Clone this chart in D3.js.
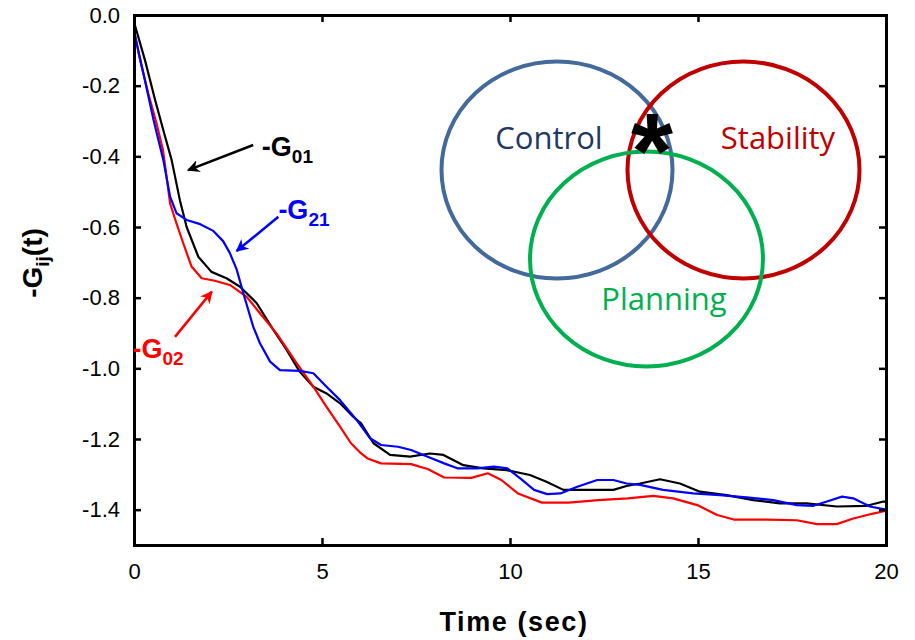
<!DOCTYPE html>
<html><head><meta charset="utf-8">
<script src="https://cdn.jsdelivr.net/npm/d3@7"></script>
<style>body{margin:0;background:#fff}svg{display:block}</style>
</head><body><svg id="c" width="915" height="640"></svg>
<script>
const xTicks=[0,5,10,15,20];
const yTicks=[0,-0.2,-0.4,-0.6,-0.8,-1.0,-1.2,-1.4];
const g01T=[0,0.29,0.56,0.78,1.0,1.22,1.4,1.71,2.06,2.46,2.82,3.26,3.71,4.06,4.41,4.77,5.12,5.48,5.83,6.04,6.37,6.81,7.34,7.87,8.23,8.76,9.29,9.91,10.53,10.97,11.42,12.04,12.75,13.1,13.46,13.99,14.52,15.05,15.76,16.47,17.18,17.89,18.69,19.49,19.93,20];
const g01V=[-0.02,-0.127,-0.24,-0.326,-0.41,-0.524,-0.6,-0.684,-0.727,-0.745,-0.769,-0.815,-0.892,-0.948,-1.01,-1.052,-1.071,-1.099,-1.137,-1.156,-1.212,-1.245,-1.25,-1.241,-1.245,-1.274,-1.283,-1.288,-1.302,-1.321,-1.344,-1.344,-1.344,-1.333,-1.326,-1.314,-1.326,-1.349,-1.359,-1.373,-1.382,-1.382,-1.391,-1.389,-1.377,-1.377];
const g02T=[0,0.16,0.38,0.6,0.77,0.96,1.13,1.31,1.53,1.8,2.15,2.55,2.99,3.35,3.79,4.33,4.77,5.12,5.48,5.77,6.04,6.21,6.57,7.37,7.81,8.25,8.97,9.41,9.77,10.21,10.85,11.56,12.35,13.13,13.81,14.34,14.98,15.51,15.95,16.84,17.63,18.16,18.69,19.13,19.66,20];
const g02V=[-0.042,-0.127,-0.222,-0.307,-0.382,-0.533,-0.59,-0.646,-0.712,-0.745,-0.752,-0.764,-0.797,-0.844,-0.901,-0.986,-1.052,-1.109,-1.165,-1.212,-1.241,-1.255,-1.269,-1.271,-1.285,-1.309,-1.31,-1.297,-1.316,-1.354,-1.38,-1.38,-1.373,-1.368,-1.361,-1.368,-1.387,-1.415,-1.428,-1.428,-1.43,-1.441,-1.441,-1.425,-1.411,-1.403];
const g21T=[0,0.25,0.52,0.78,0.96,1.13,1.4,1.76,2.11,2.37,2.55,2.73,2.91,3.17,3.35,3.62,3.88,4.41,4.77,5.12,5.48,5.92,6.28,6.57,7.02,7.37,7.81,8.25,8.6,9.13,9.57,9.93,10.28,10.64,10.99,11.34,11.79,12.32,12.75,13.1,13.46,14.07,14.87,15.58,16.29,17.0,17.63,18.07,18.43,18.83,19.13,19.57,20];
const g21V=[-0.047,-0.165,-0.297,-0.41,-0.514,-0.561,-0.58,-0.592,-0.611,-0.64,-0.674,-0.72,-0.788,-0.882,-0.929,-0.981,-1.005,-1.007,-1.014,-1.052,-1.09,-1.146,-1.198,-1.217,-1.222,-1.231,-1.25,-1.269,-1.283,-1.283,-1.278,-1.283,-1.312,-1.344,-1.356,-1.354,-1.335,-1.316,-1.316,-1.326,-1.33,-1.344,-1.354,-1.359,-1.365,-1.373,-1.387,-1.389,-1.377,-1.363,-1.368,-1.391,-1.4];
const seriesNames=["-G01","-G02","-G21"];
const seriesColors=["#000000","#ff0000","#0000ff"];
const vennLabels=["Control","Stability","Planning"];

const svg=d3.select("#c");
const L=134,R=886,T=15,B=545;
const x=d3.scaleLinear().domain([0,20]).range([L,R]);
const y=d3.scaleLinear().domain([0,-1.5]).range([T,B]);
const font="'Liberation Sans',Arial,sans-serif";

const series=[[g01T,g01V],[g02T,g02V],[g21T,g21V]];
const line=d3.line().x(d=>x(d[0])).y(d=>y(d[1]));
[0,1,2].forEach(i=>{
  const pts=series[i][0].map((t,k)=>[t,series[i][1][k]]);
  svg.append("path").attr("d",line(pts)).attr("fill","none")
    .attr("stroke",seriesColors[i]).attr("stroke-width",2.2).attr("stroke-linejoin","round");
});

const ax=svg.append("g").attr("font-family",font);
const axB=d3.axisBottom(x).tickValues(xTicks).tickSize(-7).tickPadding(18).tickFormat(d3.format("d"));
const gB=ax.append("g").attr("transform",`translate(0,${B})`).call(axB);
const axT=d3.axisTop(x).tickValues(xTicks).tickSize(-7).tickFormat("");
const gT=ax.append("g").attr("transform",`translate(0,${T})`).call(axT);
const axL=d3.axisLeft(y).tickValues(yTicks).tickSize(-7).tickPadding(14).tickFormat(d3.format(".1f"));
const gL=ax.append("g").attr("transform",`translate(${L},0)`).call(axL);
const axR=d3.axisRight(y).tickValues(yTicks).tickSize(-7).tickFormat("");
const gR=ax.append("g").attr("transform",`translate(${R},0)`).call(axR);
[gB,gT,gL,gR].forEach(g=>{
  g.select(".domain").attr("stroke","#000").attr("stroke-width",3);
  g.selectAll(".tick line").attr("stroke","#000").attr("stroke-width",2.5);
  g.selectAll(".tick text").attr("fill","#000").attr("font-size",22).attr("font-family",font);
});
gL.selectAll(".tick text").text(d=>d===0?"0.0":d3.format(".1f")(d).replace("−","-"));

svg.append("text").attr("x",(L+R)/2+4).attr("y",631).attr("text-anchor","middle")
  .attr("font-family",font).attr("font-weight","bold").attr("font-size",27).attr("letter-spacing",1.6)
  .text("Time (sec)");
const yl=svg.append("text").attr("transform","translate(42,263) rotate(-90)").attr("text-anchor","middle")
  .attr("font-family",font).attr("font-weight","bold").attr("font-size",28);
yl.append("tspan").text("-G");
yl.append("tspan").attr("font-size",19).attr("dy",7).text("ij");
yl.append("tspan").attr("dy",-7).text("(t)");

const ann=[
  {i:0,lt:3.4,lv:-0.398,a:[3.17,-0.368,1.44,-0.439]},
  {i:2,lt:3.84,lv:-0.576,a:[3.84,-0.571,2.73,-0.668]},
  {i:1,lt:-0.04,lv:-0.972,a:[1.09,-0.911,2.07,-0.783]}
];
const defs=svg.append("defs");
seriesColors.forEach((c,i)=>{
  defs.append("marker").attr("id","ah"+i).attr("viewBox","0 0 10 10").attr("refX",9).attr("refY",5)
    .attr("markerWidth",5).attr("markerHeight",5).attr("orient","auto").attr("markerUnits","strokeWidth")
    .append("path").attr("d","M0,0L10,5L0,10L3,5Z").attr("fill",c);
});
ann.forEach(a=>{
  const c=seriesColors[a.i];
  svg.append("line").attr("x1",x(a.a[0])).attr("y1",y(a.a[1])).attr("x2",x(a.a[2])).attr("y2",y(a.a[3]))
    .attr("stroke",c).attr("stroke-width",2.5).attr("marker-end",`url(#ah${a.i})`);
  const t=svg.append("text").attr("x",x(a.lt)).attr("y",y(a.lv)).attr("fill",c)
    .attr("font-family",font).attr("font-weight","bold").attr("font-size",27);
  t.append("tspan").text("-G");
  t.append("tspan").attr("font-size",19).attr("dy",7).text(seriesNames[a.i].slice(2));
});

const venn=svg.append("g");
const circ=[[557,170,115.5,108.5,"#44699b"],[743.5,170,116,108.5,"#c00000"],[646.5,259,116.5,107.5,"#00b050"]];
circ.forEach(c=>venn.append("ellipse").attr("cx",c[0]).attr("cy",c[1]).attr("rx",c[2]).attr("ry",c[3])
  .attr("fill","none").attr("stroke",c[4]).attr("stroke-width",4));
const vt=[[549,149,"#1f3864"],[778,149,"#c00000"],[664,310,"#00b050"]];
vt.forEach((v,i)=>venn.append("text").attr("x",v[0]).attr("y",v[1]).attr("text-anchor","middle")
  .attr("font-family","'Open Sans',sans-serif").attr("font-size",31).attr("fill",v[2]).text(vennLabels[i]));
venn.append("text").attr("x",652).attr("y",188).attr("text-anchor","middle")
  .attr("font-family",font).attr("font-weight","bold").attr("font-size",108).attr("fill","#000").text("*");
</script></body></html>
